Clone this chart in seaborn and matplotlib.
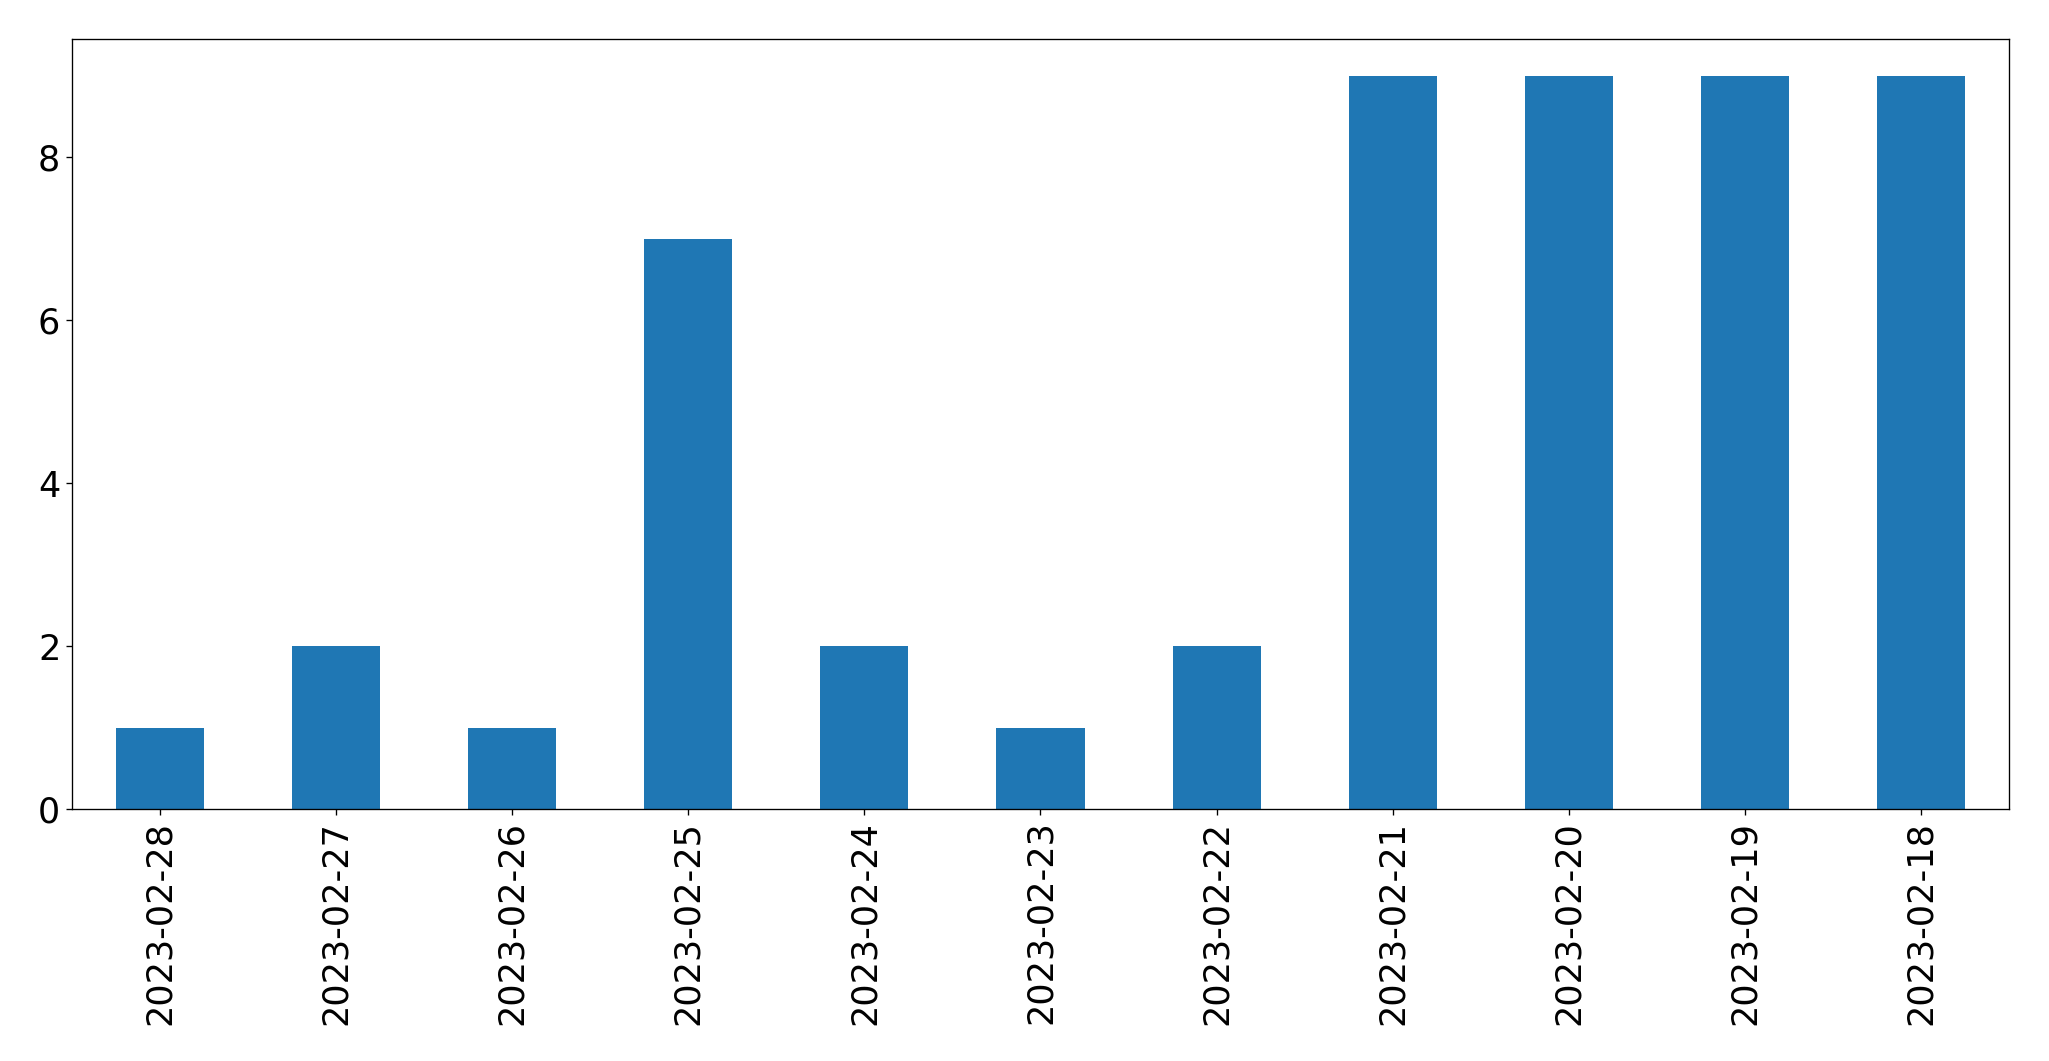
import pandas as pd
import matplotlib
matplotlib.use('Agg')
import matplotlib.pyplot as plt
import seaborn as sns

# Counts per day (newest first, as in the original)
dates = ['2023-02-28', '2023-02-27', '2023-02-26', '2023-02-25', '2023-02-24', '2023-02-23',
         '2023-02-22', '2023-02-21', '2023-02-20', '2023-02-19', '2023-02-18']
counts = [1, 2, 1, 7, 2, 1, 2, 9, 9, 9, 9]

df = pd.DataFrame({'date': dates, 'count': counts})

fig, ax = plt.subplots(figsize=(2049 / 120, 1061 / 120), dpi=120)
fig.subplots_adjust(left=0.0351, right=0.9805, top=0.9632, bottom=0.2375)

sns.barplot(data=df, x='date', y='count', order=dates, color='#1f77b4',
            saturation=1, width=0.5, linewidth=0, ax=ax)

ax.set_xlim(-0.5, len(dates) - 0.5)
ax.set_ylim(0, max(counts) * 1.05)
ax.set_xlabel('')
ax.set_ylabel('')
ax.tick_params(axis='both', labelsize=21)
plt.setp(ax.get_xticklabels(), rotation=90)

fig.savefig('out.png', dpi=120)
